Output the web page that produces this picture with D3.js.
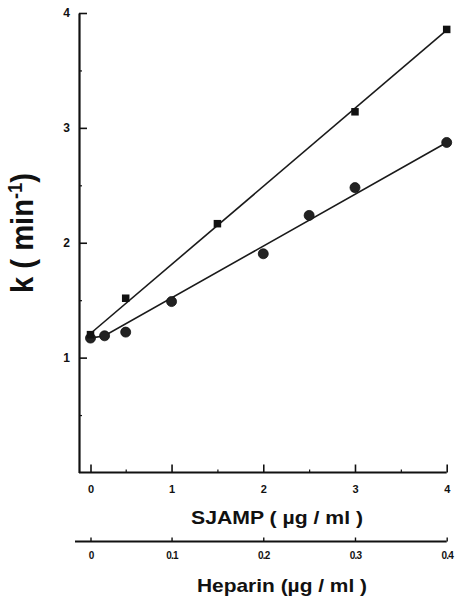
<!DOCTYPE html>
<html>
<head>
<meta charset="utf-8">
<script src="https://cdn.jsdelivr.net/npm/d3@7/dist/d3.min.js"></script>
<style>
  html, body { margin: 0; padding: 0; background: #fff; }
  svg { display: block; }
  text { font-family: "Liberation Sans", Arial, Helvetica, sans-serif; font-weight: bold; fill: #111; }
</style>
</head>
<body>
<div id="chart"></div>
<script>
// SJAMP concentration (µg/ml) and rate constant k (min-1)
const squareX = [0, 0.5, 1.5, 3, 4];
const squareK = [1.2, 1.517, 2.166, 3.14, 3.857];
const circleX = [0, 0.2, 0.5, 1, 2, 2.5, 3, 4];
const circleK = [1.17, 1.19, 1.222, 1.488, 1.904, 2.238, 2.48, 2.873];

// fitted lines through each series
const squareFitX = [0, 4];
const squareFitK = [1.21, 3.85];
const circleFitX = [0, 0.2, 4];
const circleFitK = [1.17, 1.19, 2.873];

// axis ticks
const kTicks = [1, 2, 3, 4];
const kMinor = [0.5, 1.5, 2.5, 3.5];
const sjampTicks = [0, 1, 2, 3, 4];
const sjampMinor = [0.5, 1.5, 2.5, 3.5];
const heparinTicks = [0, 0.1, 0.2, 0.3, 0.4];
const heparinLabels = ["0", "0.1", "0.2", "0.3", "0.4"];

const W = 456, H = 598;
const axisLeft = 79;

const svg = d3.select("#chart").append("svg")
  .attr("width", W).attr("height", H);

// the zero point sits a little to the right of the axis corner
const x = d3.scaleLinear().domain([0, 0.5, 4]).range([90.5, 125.7, 446.7]);
const xHep = d3.scaleLinear().domain([0, 0.05, 0.4]).range([90.5, 125.7, 446.7]);
const y = d3.scaleLinear().domain([0, 4]).range([472.5, 13]);

const ink = "#111";

// --- k axis (vertical) ---
const gy = svg.append("g").attr("transform", `translate(${axisLeft},0)`);
gy.call(d3.axisLeft(y).tickValues(kTicks).tickSize(-8).tickSizeOuter(0).tickPadding(9).tickFormat(d3.format("d")));
const gyMinor = svg.append("g").attr("transform", `translate(${axisLeft},0)`);
gyMinor.call(d3.axisLeft(y).tickValues(kMinor).tickSize(-3).tickSizeOuter(0).tickFormat(""));
gyMinor.select(".domain").remove();
gy.select(".domain").attr("stroke", ink).attr("stroke-width", 2.2);
gy.selectAll(".tick line").attr("stroke", ink).attr("stroke-width", 1.6);
gyMinor.selectAll(".tick line").attr("stroke", ink).attr("stroke-width", 1.2);
gy.selectAll(".tick text").attr("font-size", 12).attr("fill", ink)
  .attr("font-family", "Liberation Sans, Arial, sans-serif").attr("font-weight", "bold");

// --- SJAMP axis (horizontal) ---
const gx = svg.append("g").attr("transform", `translate(0,${y(0)})`);
gx.call(d3.axisBottom(x).tickValues(sjampTicks).tickSize(-8).tickSizeOuter(0).tickPadding(13).tickFormat(d3.format("d")));
gx.select(".domain").remove();
gx.append("line").attr("x1", axisLeft).attr("x2", x(4)).attr("y1", 0).attr("y2", 0)
  .attr("stroke", ink).attr("stroke-width", 2.2);
const gxMinor = svg.append("g").attr("transform", `translate(0,${y(0)})`);
gxMinor.call(d3.axisBottom(x).tickValues(sjampMinor).tickSize(-3).tickSizeOuter(0).tickFormat(""));
gxMinor.select(".domain").remove();
gx.selectAll(".tick line").attr("stroke", ink).attr("stroke-width", 1.6);
gxMinor.selectAll(".tick line").attr("stroke", ink).attr("stroke-width", 1.2);
gx.selectAll(".tick text").attr("font-size", 11).attr("fill", ink)
  .attr("font-family", "Liberation Sans, Arial, sans-serif").attr("font-weight", "bold");

svg.append("text").attr("x", 277).attr("y", 524).attr("text-anchor", "middle")
  .attr("font-size", 18).attr("textLength", 172).attr("lengthAdjust", "spacingAndGlyphs")
  .text("SJAMP ( µg / ml )");

// --- Heparin axis (second horizontal scale) ---
const hepY = 541.5;
const gh = svg.append("g").attr("transform", `translate(0,${hepY})`);
gh.call(d3.axisBottom(xHep).tickValues(heparinTicks).tickSize(-4).tickSizeOuter(0).tickPadding(10)
  .tickFormat((d, i) => heparinLabels[i]));
gh.select(".domain").remove();
gh.append("line").attr("x1", 75).attr("x2", xHep(0.4)).attr("y1", 0).attr("y2", 0)
  .attr("stroke", ink).attr("stroke-width", 2);
gh.selectAll(".tick line").attr("stroke", ink).attr("stroke-width", 1.4);
gh.selectAll(".tick text").attr("font-size", 10).attr("fill", ink).attr("letter-spacing", -0.8)
  .attr("font-family", "Liberation Sans, Arial, sans-serif").attr("font-weight", "bold");

svg.append("text").attr("x", 282).attr("y", 592).attr("text-anchor", "middle")
  .attr("font-size", 19).attr("textLength", 170).attr("lengthAdjust", "spacingAndGlyphs")
  .text("Heparin (µg / ml )");

// --- k axis title ---
const yTitle = svg.append("text")
  .attr("transform", "translate(32.5,233) rotate(-90)")
  .attr("text-anchor", "middle")
  .attr("font-size", 32)
  .attr("textLength", 120).attr("lengthAdjust", "spacingAndGlyphs");
yTitle.append("tspan").text("k ( min");
yTitle.append("tspan").attr("font-size", 20).attr("dy", -11).text("-1");
yTitle.append("tspan").attr("dy", 11).text(")");

// --- fitted lines ---
const line = d3.line().x(d => x(d[0])).y(d => y(d[1]));
svg.append("path").datum(d3.zip(squareFitX, squareFitK))
  .attr("d", line).attr("fill", "none").attr("stroke", "#1a1a1a").attr("stroke-width", 1.6);
svg.append("path").datum(d3.zip(circleFitX, circleFitK))
  .attr("d", line).attr("fill", "none").attr("stroke", "#1a1a1a").attr("stroke-width", 1.6);

// --- data points ---
svg.append("g").selectAll("circle").data(d3.zip(circleX, circleK)).join("circle")
  .attr("cx", d => x(d[0])).attr("cy", d => y(d[1])).attr("r", 5)
  .attr("fill", "#222").attr("stroke", "#111").attr("stroke-width", 0.8);
const s = 7.5;
svg.append("g").selectAll("rect").data(d3.zip(squareX, squareK)).join("rect")
  .attr("x", d => x(d[0]) - s / 2).attr("y", d => y(d[1]) - s / 2)
  .attr("width", s).attr("height", s).attr("fill", "#111");
</script>
</body>
</html>
